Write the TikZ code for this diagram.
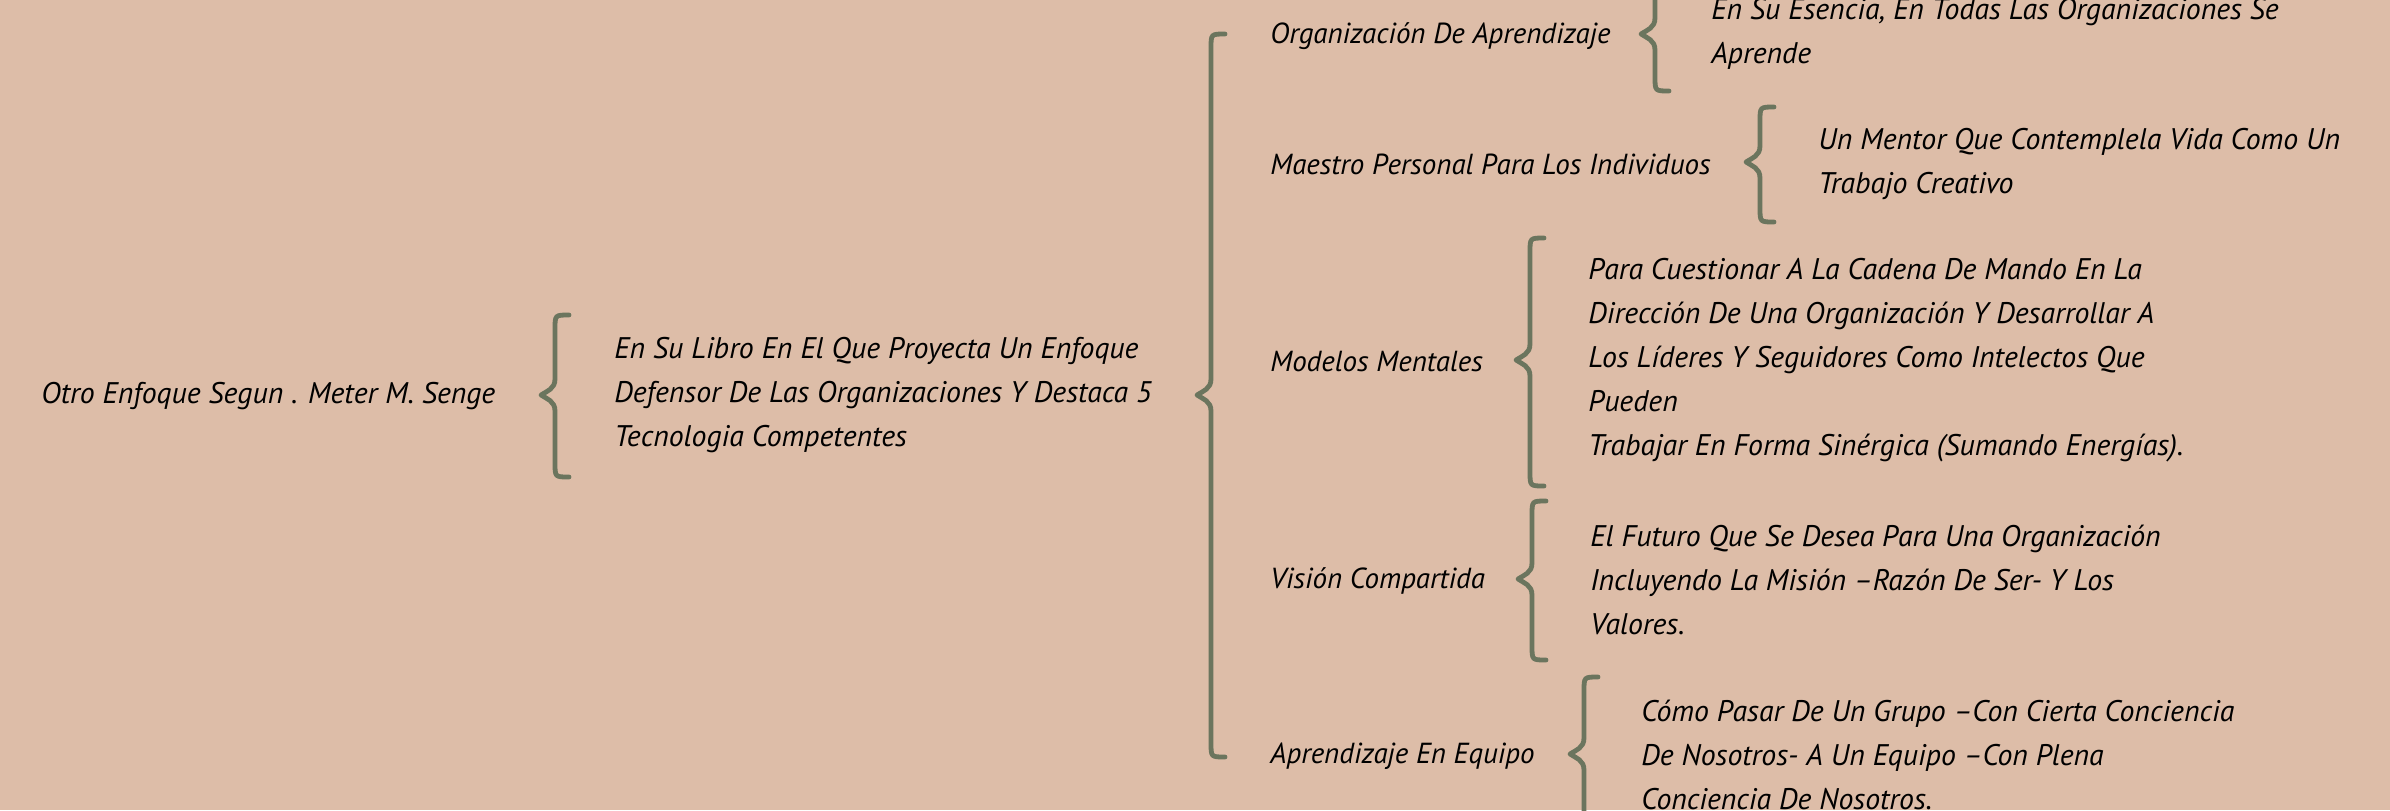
\documentclass[tikz,border=0pt]{standalone}
\usepackage{fontspec}
\setmainfont{PT Sans}
\definecolor{bg}{HTML}{DDBDA8}
\definecolor{bracecol}{HTML}{6B755E}
\tikzset{
  txt/.style={font=\fontsize{14.9}{22}\selectfont\itshape, inner sep=0pt, anchor=west, align=left, text=black},
  lbl/.style={txt, font=\fontsize{14.5}{22}\selectfont\itshape},
  bracestyle/.style={draw=bracecol, line width=2.4pt, line cap=round, line join=round}
}
\newcommand\mybrace[4]{% xv top bottom tip
  \draw[bracestyle] ({#1+14},#2) .. controls (#1,#2) .. (#1,{#2+14}) -- (#1,{#4-16})
    .. controls (#1,{#4-6}) and ({#1-8},{#4-4}) .. ({#1-14},#4)
    .. controls ({#1-8},{#4+4}) and (#1,{#4+6}) .. (#1,{#4+16})
    -- (#1,{#3-14}) .. controls (#1,#3) .. ({#1+14},#3);}
\begin{document}
\begin{tikzpicture}[x=0.5pt,y=-0.5pt]
\fill[bg] (0,0) rectangle (2390,810);
\useasboundingbox (0,0) rectangle (2390,810);
\begin{scope}
\clip (0,0) rectangle (2390,810);
% root
\node[txt] (root) at (41,396) {Otro Enfoque Segun . Meter M. Senge};
\mybrace{555}{315}{477}{395}
\node[txt] (libro) at (614,395) {En Su Libro En El Que Proyecta Un Enfoque\\Defensor De Las Organizaciones Y Destaca 5\\Tecnologia Competentes};
\mybrace{1211}{34}{757}{395}
% level 2
\node[lbl] (org) at (1270,36) {Organización De Aprendizaje};
\mybrace{1655}{-23}{91}{34}
\node[txt] (orgt) at (1711,34) {En Su Esencia, En Todas Las Organizaciones Se\\Aprende};
\node[lbl] (mae) at (1270,164) {Maestro Personal Para Los Individuos};
\mybrace{1760}{107}{222}{162}
\node[txt] (maet) at (1818,164) {Un Mentor Que Contemplela Vida Como Un\\Trabajo Creativo};
\node[lbl] (mod) at (1270,362) {Modelos Mentales};
\mybrace{1530}{238}{486}{360}
\node[txt] (modt) at (1588,360) {Para Cuestionar A La Cadena De Mando En La\\Dirección De Una Organización Y Desarrollar A\\Los Líderes Y Seguidores Como Intelectos Que\\Pueden\\Trabajar En Forma Sinérgica (Sumando Energías).};
\node[lbl] (vis) at (1270,581) {Visión Compartida};
\mybrace{1532}{501}{660}{579}
\node[txt] (vist) at (1590,580) {El Futuro Que Se Desea Para Una Organización\\Incluyendo La Misión –Razón De Ser- Y Los\\Valores.};
\node[lbl] (apr) at (1270,756) {Aprendizaje En Equipo};
\mybrace{1584}{677}{831}{754}
\node[txt] (aprt) at (1641,755) {Cómo Pasar De Un Grupo –Con Cierta Conciencia\\De Nosotros- A Un Equipo –Con Plena\\Conciencia De Nosotros.};
\end{scope}
\end{tikzpicture}
\end{document}
